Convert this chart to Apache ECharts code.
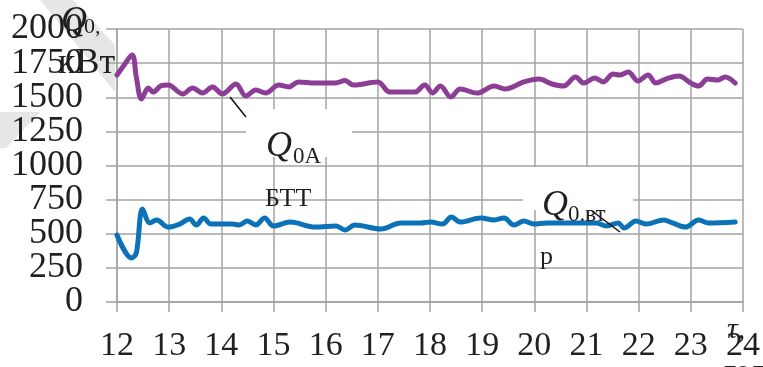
<!DOCTYPE html>
<html><head><meta charset="utf-8">
<script src="https://cdn.jsdelivr.net/npm/echarts@6/dist/echarts.min.js"></script>
<style>html,body{margin:0;padding:0;background:#fff}#c{width:763px;height:367px}</style>
</head><body><div id="c"></div>
<script>
// x axis: hours, y axis: kW
const xMin = 12, xMax = 24, xStep = 1;
const yMin = 0, yMax = 2000, yStep = 250;

// Q0A БТТ (purple): time [h] and power [kW]
const qaT = [12.00,12.11,12.29,12.37,12.47,12.60,12.69,12.85,12.98,13.26,13.45,13.64,13.83,14.02,14.28,14.47,14.66,14.85,15.10,15.29,15.48,15.80,16.19,16.37,16.53,17.00,17.23,17.71,17.90,18.05,18.20,18.40,18.58,18.90,19.23,19.44,19.80,20.09,20.34,20.56,20.79,20.95,21.16,21.32,21.51,21.63,21.80,21.99,22.18,22.33,22.52,22.77,23.00,23.15,23.32,23.51,23.66,23.85];
const qaV = [1663,1722,1810,1648,1487,1568,1538,1585,1590,1524,1568,1531,1575,1524,1597,1509,1553,1531,1590,1575,1612,1604,1604,1622,1590,1612,1538,1538,1590,1531,1582,1502,1560,1531,1582,1560,1612,1633,1597,1582,1648,1604,1641,1612,1670,1663,1685,1619,1663,1604,1633,1656,1604,1582,1633,1626,1648,1604];

// Q0.вт р (blue)
const qbT = [12.00,12.28,12.37,12.49,12.63,12.76,12.98,13.20,13.39,13.52,13.66,13.80,14.21,14.34,14.50,14.66,14.83,15.00,15.32,15.80,16.20,16.37,16.56,17.06,17.44,17.82,18.01,18.24,18.41,18.58,18.97,19.23,19.42,19.61,19.80,19.99,20.24,20.56,21.19,21.38,21.61,21.72,21.95,22.14,22.48,22.65,22.90,23.15,23.34,23.85];
const qbV = [491,322,359,681,579,601,549,571,608,564,615,571,571,564,593,564,615,557,586,549,557,527,564,535,579,579,586,571,623,586,615,601,615,564,593,571,579,579,579,557,579,542,593,571,601,579,549,601,579,586];

const FONT = 'Liberation Serif';
const TXT = '#231f20';
const GRID = '#a3a3a3';

// main plot box (px)
const G = {left: 117, right: 15, top: 29, bottom: 65};
const plotH = 367 - G.top - G.bottom;
const stepPx = plotH * yStep / (yMax - yMin);

const chart = echarts.init(document.getElementById('c'), null, {renderer: 'canvas'});

function txt(text, x, y, size, italic, z) {
  return {type: 'text', z: z || 20, style: {text: text, x: x, y: y, fill: TXT,
    font: (italic ? 'italic ' : '') + size + 'px "' + FONT + '"',
    textAlign: 'left', textVerticalAlign: 'middle', verticalAlign: 'middle'}};
}

const yLabel = {fontFamily: FONT, fontSize: 36, color: TXT, margin: 34,
  showMinLabel: true, showMaxLabel: true, hideOverlap: false, formatter: v => String(v)};

chart.setOption({
  animation: false,
  backgroundColor: '#ffffff',
  grid: [
    {left: G.left, right: G.right, top: G.top, bottom: G.bottom},
    // label-only grid for the odd ticks (250, 750, 1250, 1750), same scale
    {left: G.left, right: G.right, top: G.top + stepPx, bottom: G.bottom + stepPx}
  ],
  xAxis: [{
    gridIndex: 0, type: 'value', min: xMin, max: xMax, interval: xStep,
    axisLine: {show: true, lineStyle: {color: GRID, width: 1.5}},
    axisTick: {show: true, length: 10, lineStyle: {color: GRID, width: 1.5}},
    splitLine: {show: true, lineStyle: {color: GRID, width: 1.5}},
    axisLabel: {fontFamily: FONT, fontSize: 34, color: TXT, margin: 27,
      showMinLabel: true, showMaxLabel: true, hideOverlap: false, formatter: v => String(v)}
  }, {
    gridIndex: 1, type: 'value', min: xMin, max: xMax, show: false
  }],
  yAxis: [{
    gridIndex: 0, type: 'value', min: yMin, max: yMax, interval: yStep,
    axisLine: {show: true, lineStyle: {color: GRID, width: 1.5}},
    axisTick: {show: true, length: 11, lineStyle: {color: GRID, width: 1.5}},
    splitLine: {show: true, lineStyle: {color: GRID, width: 1.5}},
    axisLabel: Object.assign({}, yLabel, {formatter: v => (v % (2 * yStep) === 0 ? String(v) : '')})
  }, {
    gridIndex: 1, type: 'value', min: yMin + yStep, max: yMax - yStep, interval: 2 * yStep,
    axisLine: {show: false}, axisTick: {show: false}, splitLine: {show: false},
    axisLabel: yLabel
  }],
  series: [
    {type: 'line', z: 3, xAxisIndex: 0, yAxisIndex: 0, data: qaT.map((t, i) => [t, qaV[i]]), showSymbol: false, smooth: 0.35,
     lineStyle: {color: '#8c3d96', width: 5, cap: 'round', join: 'round'}},
    {type: 'line', z: 3, xAxisIndex: 0, yAxisIndex: 0, data: qbT.map((t, i) => [t, qbV[i]]), showSymbol: false, smooth: 0.35,
     lineStyle: {color: '#0b72b8', width: 5, cap: 'round', join: 'round'}}
  ],
  graphic: {elements: [
    // faint scan watermark band
    {type: 'polygon', z: -1, shape: {points: [[40,0],[73,0],[115,45],[115,92]]}, style: {fill: '#e6e6e6'}},
    {type: 'polygon', z: -1, shape: {points: [[0,112],[40,112],[6,148],[0,148]]}, style: {fill: '#e6e6e6'}},
    // white label boxes
    {type: 'rect', z: 1, shape: {x: 246, y: 109, width: 106, height: 48}, style: {fill: '#ffffff'}},
    {type: 'rect', z: 1, shape: {x: 523, y: 167, width: 110, height: 43}, style: {fill: '#ffffff'}},
    // leader lines
    {type: 'line', z: 20, shape: {x1: 230, y1: 97, x2: 246, y2: 117}, style: {stroke: '#111', lineWidth: 1.5}},
    {type: 'line', z: 20, shape: {x1: 592, y1: 211, x2: 620, y2: 232}, style: {stroke: '#111', lineWidth: 1.5}},
    // y axis name
    txt('Q', 61, 22, 36, true),
    txt('0,', 84, 27, 22, false),
    txt('кВт', 58, 64, 36, false),
    // x axis name
    txt('τ,', 727, 330, 30, true),
    txt('год', 724, 372, 30, false),
    // series labels
    txt('Q', 266, 147, 36, true),
    txt('0A', 293, 157, 23, false),
    txt('БТТ', 265, 199, 26, false),
    txt('Q', 542, 206, 36, true),
    txt('0.вт', 568, 215, 23, false),
    txt('р', 540, 257, 26, false)
  ]}
});
</script></body></html>
